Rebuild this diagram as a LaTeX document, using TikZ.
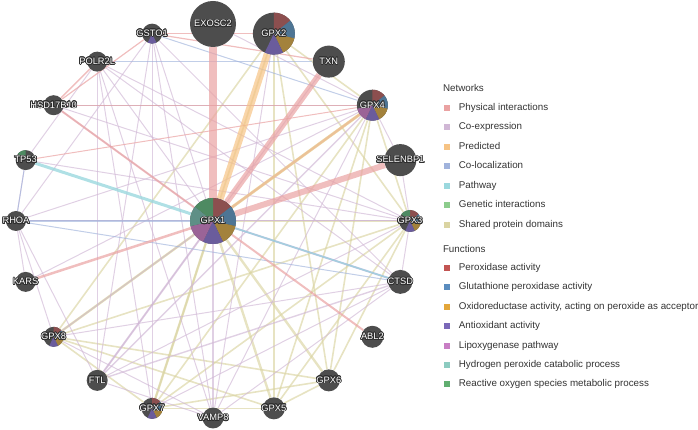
\documentclass[tikz,border=0pt]{standalone}
\usepackage{fontspec}
\setmainfont{Liberation Sans}
\usepackage{contour}
\usepackage{tikz}
\usetikzlibrary{positioning, backgrounds}

\definecolor{nodegrey}{HTML}{4D4D4D}
\definecolor{halo}{HTML}{2E2E2E}
\definecolor{legtxt}{HTML}{333333}
% network colours
\definecolor{physcol}{HTML}{EAA2A2}
\definecolor{coexcol}{HTML}{D0B7D5}
\definecolor{predcol}{HTML}{F6C384}
\definecolor{coloccol}{HTML}{A0B3DC}
\definecolor{pathcol}{HTML}{9BD8DE}
\definecolor{genetcol}{HTML}{8CCC8C}
\definecolor{sharedcol}{HTML}{DAD4A2}
% function colours
\definecolor{perox}{HTML}{C25452}
\definecolor{gluta}{HTML}{5A8CBE}
\definecolor{oxido}{HTML}{E3A63A}
\definecolor{antiox}{HTML}{7A68B8}
\definecolor{lipox}{HTML}{C87EC4}
\definecolor{hydro}{HTML}{8CCBC0}
\definecolor{ros}{HTML}{60AE70}
% pie colours (darker)
\definecolor{pperox}{HTML}{8C4F4F}
\definecolor{pgluta}{HTML}{4E7594}
\definecolor{poxido}{HTML}{A3823C}
\definecolor{pantiox}{HTML}{6A5C9C}
\definecolor{plipox}{HTML}{9B6497}
\definecolor{phydro}{HTML}{5E8F86}
\definecolor{pros}{HTML}{4E8A62}

\contourlength{0.75pt}
\newcommand{\glab}[1]{\makebox[0pt]{\contour{halo}{#1}}}

\tikzset{pie/.style={path picture={
  \foreach \k/\c in {#1}
    \fill[\c] (path picture bounding box.center) -- ++({90-\k*360/7}:30)
      arc[start angle={90-\k*360/7}, delta angle={-360/7}, radius=30] -- cycle;}}}

\begin{document}
\begin{tikzpicture}[x=1pt,y=1pt,semithick]
\tikzstyle{gene}=[circle,fill=nodegrey,inner sep=0pt,minimum size=20pt,text=white,font=\fontsize{9.3}{10}\selectfont]
\tikzstyle{phys}=[draw=physcol,opacity=.7,line width=1pt]
\tikzstyle{coex}=[draw=coexcol,opacity=.65,line width=1pt]
\tikzstyle{pred}=[draw=predcol,opacity=.7,line width=1pt]
\tikzstyle{coloc}=[draw=coloccol,opacity=.65,line width=1pt]
\tikzstyle{pathw}=[draw=pathcol,opacity=.8,line width=1pt]
\tikzstyle{shared}=[draw=sharedcol,opacity=.65,line width=1.6pt]
\tikzstyle{swatch}=[rectangle,minimum size=6pt,inner sep=0pt]
\tikzstyle{legtext}=[inner sep=0pt,text=legtxt,text height=7pt,text depth=2pt,font=\fontsize{9.8}{11}\selectfont]

\useasboundingbox (-213,-209) rectangle (485,221);

\node[gene,minimum size=46pt,pie={0/pperox,1/pgluta,2/poxido,3/pantiox,4/plipox,5/phydro,6/pros}] (GPX1) at (0,0) {\glab{GPX1}};
\node[gene,minimum size=46pt] (EXOSC2) at (90:197) {\glab{EXOSC2}};
\node[gene,minimum size=42pt,pie={0/pperox,1/pgluta,2/poxido,3/pantiox}] (GPX2) at (72:197) {\glab{GPX2}};
\node[gene,minimum size=32pt] (TXN) at (54:197) {\glab{TXN}};
\node[gene,minimum size=31pt,pie={0/pperox,1/pgluta,2/poxido,3/pantiox,4/plipox}] (GPX4) at (36:197) {\glab{GPX4}};
\node[gene,minimum size=32pt] (SELENBP1) at (18:197) {\glab{SELENBP1}};
\node[gene,minimum size=22pt,pie={0/pperox,1/pgluta,2/poxido,3/pantiox,6/pros}] (GPX3) at (0:197) {\glab{GPX3}};
\node[gene,minimum size=24pt] (CTSD) at (-18:197) {\glab{CTSD}};
\node[gene,minimum size=22pt] (ABL2) at (-36:197) {\glab{ABL2}};
\node[gene,minimum size=22pt] (GPX6) at (-54:197) {\glab{GPX6}};
\node[gene,minimum size=22pt] (GPX5) at (-72:197) {\glab{GPX5}};
\node[gene,minimum size=21pt] (VAMP8) at (-90:197) {\glab{VAMP8}};
\node[gene,minimum size=21pt,pie={0/pperox,1/pgluta,2/poxido,3/pantiox}] (GPX7) at (-108:197) {\glab{GPX7}};
\node[gene,minimum size=21pt] (FTL) at (-126:197) {\glab{FTL}};
\node[gene,pie={0/pperox,1/pgluta,2/poxido,3/pantiox}] (GPX8) at (-144:197) {\glab{GPX8}};
\node[gene] (KARS) at (-162:197) {\glab{KARS}};
\node[gene] (RHOA) at (180:197) {\glab{RHOA}};
\node[gene,pie={6/pros}] (TP53) at (162:197) {\glab{TP53}};
\node[gene] (HSD17B10) at (144:197) {\glab{HSD17B10}};
\node[gene] (POLR2L) at (126:197) {\glab{POLR2L}};
\node[gene,pie={3/pantiox}] (GSTO1) at (108:197) {\glab{GSTO1}};

\begin{scope}[on background layer]
% shared protein domains
\path
(GPX1) edge[shared,line width=2.4pt] (GPX3)
(GPX1) edge[shared,line width=2.4pt] (GPX5)
(GPX1) edge[shared,line width=2.4pt] (GPX6)
(GPX1) edge[shared,line width=2.4pt] (GPX7)
(GPX1) edge[shared,line width=2.4pt] (GPX8)
(GPX1) edge[shared,line width=3pt] (GPX4)
(GPX2) edge[shared] (GPX3)
(GPX2) edge[shared] (GPX4)
(GPX2) edge[shared] (GPX5)
(GPX2) edge[shared] (GPX6)
(GPX2) edge[shared] (GPX7)
(GPX2) edge[shared] (GPX8)
(GPX3) edge[shared] (GPX4)
(GPX3) edge[shared] (GPX5)
(GPX3) edge[shared] (GPX6)
(GPX3) edge[shared] (GPX7)
(GPX3) edge[shared] (GPX8)
(GPX4) edge[shared] (GPX5)
(GPX4) edge[shared] (GPX6)
(GPX4) edge[shared] (GPX7)
(GPX4) edge[shared] (GPX8)
(GPX5) edge[shared] (GPX6)
(GPX5) edge[shared] (GPX7)
(GPX5) edge[shared] (GPX8)
(GPX6) edge[shared] (GPX7)
(GPX6) edge[shared] (GPX8)
(GPX7) edge[shared] (GPX8);

% co-expression
\path
(FTL) edge[coex,line width=2pt] (GPX1)
(FTL) edge[coex,line width=1.4pt] (GPX4)
(FTL) edge[coex,line width=1.4pt] (CTSD)
(FTL) edge[coex] (GPX3)
(FTL) edge[coex] (VAMP8)
(FTL) edge[coex] (POLR2L)
(FTL) edge[coex] (RHOA)
(FTL) edge[coex] (GSTO1)
(FTL) edge[coex] (TXN)
(VAMP8) edge[coex,line width=2pt] (GPX1)
(VAMP8) edge[coex] (GSTO1)
(VAMP8) edge[coex] (CTSD)
(VAMP8) edge[coex] (GPX4)
(VAMP8) edge[coex] (POLR2L)
(VAMP8) edge[coex] (GPX2)
(VAMP8) edge[coex] (GPX8)
(GSTO1) edge[coex] (GPX1)
(GSTO1) edge[coex] (GPX7)
(GSTO1) edge[coex] (CTSD)
(GSTO1) edge[coex] (RHOA)
(POLR2L) edge[coex] (GPX3)
(POLR2L) edge[coex] (GPX1)
(POLR2L) edge[coex] (TP53)
(POLR2L) edge[coex] (CTSD)
(POLR2L) edge[coex] (GPX7)
(HSD17B10) edge[coex] (GPX1)
(HSD17B10) edge[coex] (GPX3)
(RHOA) edge[coex] (GPX3)
(RHOA) edge[coex] (GPX1)
(RHOA) edge[coex] (KARS)
(RHOA) edge[coex] (GPX4)
(RHOA) edge[coex] (GPX8)
(TP53) edge[coex] (RHOA)
(TP53) edge[coex] (GPX3)
(KARS) edge[coex] (GPX4)
(CTSD) edge[coex,line width=1.4pt] (GPX1)
(CTSD) edge[coex] (GPX7)
(CTSD) edge[coex] (GPX8)
(CTSD) edge[coex] (GPX3)
(GPX4) edge[coex,line width=1.4pt] (GPX1)
(GPX4) edge[coex] (SELENBP1)
(GPX4) edge[coex] (GPX8)
(GPX4) edge[coex] (EXOSC2)
(SELENBP1) edge[coex] (GPX3)
(GPX3) edge[coex] (GPX1);

% co-localization
\path
(HSD17B10) edge[coloc] (GPX4)
(GPX1) edge[coloc,line width=2pt] (CTSD)
(GPX1) edge[coloc,line width=1.4pt] (RHOA)
(POLR2L) edge[coloc] (TXN)
(GSTO1) edge[coloc] (GPX4)
(RHOA) edge[coloc] (TP53)
(RHOA) edge[coloc] (CTSD);

% physical interactions
\path
(GSTO1) edge[phys,line width=1.2pt] (HSD17B10)
(POLR2L) edge[phys,line width=1.5pt] (HSD17B10)
(GSTO1) edge[phys,line width=1.2pt] (TXN)
(GSTO1) edge[phys] (GPX2)
(HSD17B10) edge[phys,line width=1.2pt] (GPX4)
(TP53) edge[phys] (GPX4)
(GPX1) edge[phys,line width=2.5pt] (KARS)
(GPX1) edge[phys,line width=2pt] (ABL2)
(GPX1) edge[phys,line width=2pt] (HSD17B10)
(GPX1) edge[phys,line width=8pt] (EXOSC2)
(GPX1) edge[phys,line width=6pt] (TXN)
(GPX1) edge[phys,line width=6pt] (SELENBP1);

% predicted, pathway
\path
(GPX1) edge[pred,line width=7pt] (GPX2)
(GPX1) edge[pred,line width=2.5pt] (GPX4)
(TP53) edge[pathw,line width=3pt] (GPX1)
(GPX1) edge[pathw] (CTSD);
\end{scope}

% legend
\node[legtext,anchor=west] (nethead) at (229.7,132) {Networks};
\foreach \c/\t [count=\i] in {physcol/Physical interactions, coexcol/Co-expression, predcol/Predicted, coloccol/Co-localization, pathcol/Pathway, genetcol/Genetic interactions, sharedcol/Shared protein domains}{
  \node[swatch,fill=\c] (nsw\i) at (233.5,{132.5-19.5*\i}) {};
  \node[legtext,right=8.8pt of nsw\i] (ntx\i) {\t};
}
\node[legtext,anchor=west] (funhead) at (229.7,-29) {Functions};
\foreach \c/\t [count=\i] in {perox/Peroxidase activity, gluta/Glutathione peroxidase activity, oxido/{Oxidoreductase activity, acting on peroxide as acceptor}, antiox/Antioxidant activity, lipox/Lipoxygenase pathway, hydro/Hydrogen peroxide catabolic process, ros/Reactive oxygen species metabolic process}{
  \node[swatch,fill=\c] (fsw\i) at (233.5,{-27.6-19.4*\i}) {};
  \node[legtext,right=8.8pt of fsw\i] (ftx\i) {\t};
}
\end{tikzpicture}
\end{document}
